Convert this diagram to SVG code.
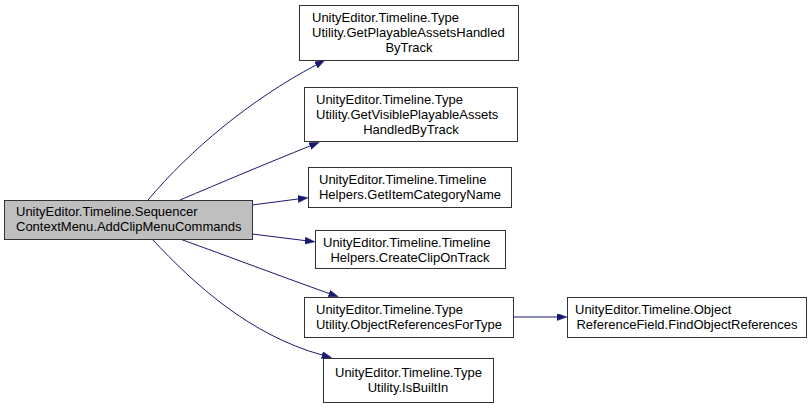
<svg xmlns="http://www.w3.org/2000/svg" width="812" height="409" viewBox="0 0 812 409">
<style>
.n rect{fill:#ffffff;stroke:#333333;stroke-width:1}
#main rect{fill:#bfbfbf}
text{font-family:"Liberation Sans",Arial,sans-serif;font-size:13px;fill:#000000}
.m{text-anchor:middle}
.e path{fill:none;stroke:#191970;stroke-width:1}
</style>
<defs>
<marker id="ah" markerUnits="userSpaceOnUse" markerWidth="11" markerHeight="8" refX="0" refY="3.5" orient="auto">
<path d="M0,0 L10,3.5 L0,7 z" fill="#191970" stroke="#191970" stroke-width="0.5"/>
</marker>
</defs>
<rect width="812" height="409" fill="#ffffff"/>
<g id="edges" class="e">
<path d="M148,200 C190,150 250,100 316,65" marker-end="url(#ah)"/>
<path d="M180,200 C220,183 270,162 310,146" marker-end="url(#ah)"/>
<path d="M252,205 L298,199" marker-end="url(#ah)"/>
<path d="M252,234 L305,240.6" marker-end="url(#ah)"/>
<path d="M180,239 C230,257 280,276 329,293.5" marker-end="url(#ah)"/>
<path d="M152,239 C195,285 250,335 322,355" marker-end="url(#ah)"/>
<path d="M513,317 L557,317" marker-end="url(#ah)"/>
</g>
<g id="main" class="n">
<rect x="4.5" y="200.5" width="248" height="39"/>
<text x="16" y="216">UnityEditor.Timeline.Sequencer</text>
<text x="16" y="231">ContextMenu.AddClipMenuCommands</text>
</g>
<g id="n1" class="n">
<rect x="299.5" y="5.5" width="219" height="55"/>
<text x="312" y="22">UnityEditor.Timeline.Type</text>
<text x="312" y="37">Utility.GetPlayableAssetsHandled</text>
<text x="409" y="52" class="m">ByTrack</text>
</g>
<g id="n2" class="n">
<rect x="304.5" y="87.5" width="213" height="54"/>
<text x="316" y="104">UnityEditor.Timeline.Type</text>
<text x="316" y="119">Utility.GetVisiblePlayableAssets</text>
<text x="411" y="134" class="m">HandledByTrack</text>
</g>
<g id="n3" class="n">
<rect x="308.5" y="167.5" width="203" height="40"/>
<text x="319" y="184">UnityEditor.Timeline.Timeline</text>
<text x="410" y="199" class="m">Helpers.GetItemCategoryName</text>
</g>
<g id="n4" class="n">
<rect x="315.5" y="230.5" width="190" height="38"/>
<text x="323" y="247">UnityEditor.Timeline.Timeline</text>
<text x="410" y="262" class="m">Helpers.CreateClipOnTrack</text>
</g>
<g id="n5" class="n">
<rect x="304.5" y="297.5" width="209" height="40"/>
<text x="316" y="314">UnityEditor.Timeline.Type</text>
<text x="409" y="329" class="m">Utility.ObjectReferencesForType</text>
</g>
<g id="n6" class="n">
<rect x="323.5" y="358.5" width="170" height="44"/>
<text x="335" y="377">UnityEditor.Timeline.Type</text>
<text x="408" y="392" class="m">Utility.IsBuiltIn</text>
</g>
<g id="n7" class="n">
<rect x="567.5" y="297.5" width="239" height="40"/>
<text x="575" y="314">UnityEditor.Timeline.Object</text>
<text x="687" y="329" class="m">ReferenceField.FindObjectReferences</text>
</g>
</svg>
